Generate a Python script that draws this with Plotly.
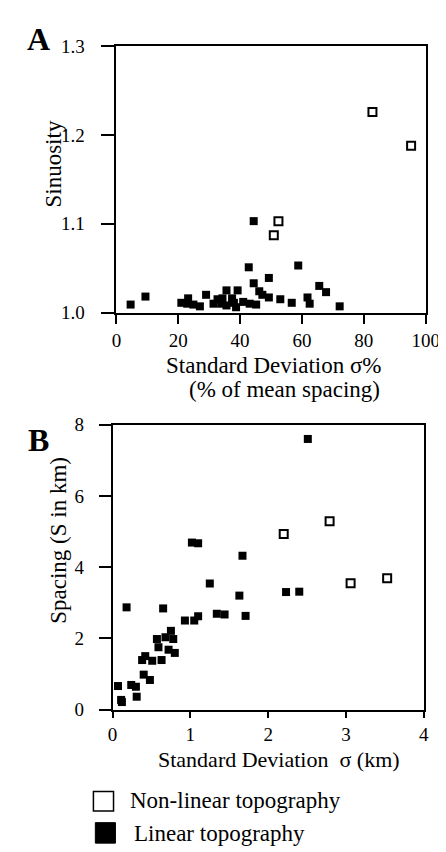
import plotly.graph_objects as go

# Panel A - sinuosity vs standard deviation (% of mean spacing)
a_nonlin_x = [82.8, 95.3, 52.4, 50.9]
a_nonlin_y = [1.226, 1.188, 1.103, 1.087]

a_lin_x = [44.4, 42.8, 58.8, 49.3, 44.4, 65.6, 67.8, 46.2, 47.2, 49.3,
           53.0, 56.7, 61.8, 62.5, 72.2, 4.6, 9.4, 21.0, 23.2, 22.9,
           24.9, 27.0, 29.0, 31.4, 32.7, 34.3, 35.6, 35.6, 37.4, 39.2,
           38.7, 38.0, 41.0, 43.1, 45.2, 33.9]
a_lin_y = [1.103, 1.051, 1.053, 1.039, 1.033, 1.030, 1.023, 1.024, 1.020, 1.017,
           1.015, 1.011, 1.017, 1.010, 1.007, 1.009, 1.018, 1.011, 1.016, 1.010,
           1.009, 1.007, 1.020, 1.010, 1.015, 1.016, 1.025, 1.008, 1.016, 1.025,
           1.006, 1.011, 1.012, 1.010, 1.009, 1.010]

# Panel B - spacing vs standard deviation (km)
b_nonlin_x = [2.20, 2.79, 3.06, 3.53]
b_nonlin_y = [4.93, 5.29, 3.55, 3.69]

b_lin_x = [2.51, 1.02, 1.10, 1.67, 1.25, 1.63, 2.23, 2.40, 0.18, 0.65,
           1.34, 1.44, 1.71, 0.93, 1.05, 1.10, 0.75, 0.68, 0.57, 0.78,
           0.59, 0.72, 0.80, 0.42, 0.38, 0.51, 0.63, 0.40, 0.48, 0.07,
           0.24, 0.30, 0.31, 0.11, 0.12]
b_lin_y = [7.60, 4.69, 4.67, 4.32, 3.54, 3.20, 3.30, 3.31, 2.87, 2.84,
           2.69, 2.67, 2.63, 2.50, 2.50, 2.62, 2.21, 2.03, 1.98, 1.98,
           1.75, 1.68, 1.59, 1.50, 1.39, 1.37, 1.39, 0.98, 0.83, 0.66,
           0.69, 0.64, 0.36, 0.27, 0.21]

legend_labels = ["Non-linear topography", "Linear topography"]

W, H = 446, 852
SERIF = "Liberation Serif"

fig = go.Figure()

open_marker = dict(symbol="square-open", size=8, color="black", line=dict(width=2, color="black"))
fill_marker = dict(symbol="square", size=8, color="black")

fig.add_trace(go.Scatter(x=a_lin_x, y=a_lin_y, mode="markers", marker=fill_marker,
                         xaxis="x", yaxis="y", cliponaxis=False, name=legend_labels[1]))
fig.add_trace(go.Scatter(x=a_nonlin_x, y=a_nonlin_y, mode="markers", marker=open_marker,
                         xaxis="x", yaxis="y", cliponaxis=False, name=legend_labels[0]))
fig.add_trace(go.Scatter(x=b_lin_x, y=b_lin_y, mode="markers", marker=fill_marker,
                         xaxis="x2", yaxis="y2", cliponaxis=False, name=legend_labels[1]))
fig.add_trace(go.Scatter(x=b_nonlin_x, y=b_nonlin_y, mode="markers", marker=open_marker,
                         xaxis="x2", yaxis="y2", cliponaxis=False, name=legend_labels[0]))


def px(x):
    return x / W


def py(y):
    return 1 - y / H


axis_common = dict(showline=True, mirror=True, linecolor="black", linewidth=1.5,
                   showgrid=False, zeroline=False, ticks="outside", tickcolor="black",
                   tickwidth=1.5, tickfont=dict(family=SERIF, size=19, color="black"))

fig.update_layout(
    width=W, height=H,
    margin=dict(l=0, r=0, t=0, b=0),
    paper_bgcolor="white", plot_bgcolor="white",
    showlegend=False,
    font=dict(family=SERIF, color="black"),
    xaxis=dict(axis_common, domain=[px(108), px(431)], range=[0, 100],
               tickvals=[0, 20, 40, 60, 80, 100], ticklen=10, anchor="y"),
    yaxis=dict(axis_common, domain=[py(302), py(29)], range=[1.0, 1.3],
               tickvals=[1.0, 1.1, 1.2, 1.3], ticktext=["1.0", "1.1", "1.2", "1.3"],
               ticklen=14, ticklabelstandoff=12, anchor="x"),
    xaxis2=dict(axis_common, domain=[px(104), px(429)], range=[0, 4],
                tickvals=[0, 1, 2, 3, 4], ticklen=7, anchor="y2"),
    yaxis2=dict(axis_common, domain=[py(709), py(417)], range=[0, 8],
                tickvals=[0, 2, 4, 6, 8], ticklen=12, ticklabelstandoff=11, anchor="x2"),
)

texts = [
    dict(text="<b>A</b>", x=27, y=22, size=32, angle=0),
    dict(text="<b>B</b>", x=27, y=433, size=32, angle=0),
    dict(text="Sinuosity", x=42, y=150, size=23, angle=-90),
    dict(text="Spacing (S in km)", x=48, y=535, size=23, angle=-90),
    dict(text="Standard Deviation σ%", x=273, y=356, size=23, angle=0),
    dict(text="(% of mean spacing)", x=284, y=381, size=23, angle=0),
    dict(text="Standard Deviation  σ (km)", x=278, y=760, size=22, angle=0),
]
for t in texts:
    fig.add_annotation(text=t["text"], x=px(t["x"]), y=py(t["y"]), xref="paper", yref="paper",
                       showarrow=False, xanchor="center", yanchor="middle", textangle=t["angle"],
                       font=dict(family=SERIF, size=t["size"], color="black"))

# legend key
fig.add_shape(type="rect", xref="paper", yref="paper", x0=px(84), x1=px(105), y0=py(813), y1=py(793),
              line=dict(color="black", width=1.5), fillcolor="white")
fig.add_shape(type="rect", xref="paper", yref="paper", x0=px(86), x1=px(107), y0=py(846), y1=py(825),
              line=dict(color="black", width=1), fillcolor="black")
fig.add_annotation(text=legend_labels[0], x=px(120), y=py(802), xref="paper", yref="paper",
                   showarrow=False, xanchor="left", yanchor="middle",
                   font=dict(family=SERIF, size=23, color="black"))
fig.add_annotation(text=legend_labels[1], x=px(124), y=py(836), xref="paper", yref="paper",
                   showarrow=False, xanchor="left", yanchor="middle",
                   font=dict(family=SERIF, size=23, color="black"))

fig.write_html("out.html")
